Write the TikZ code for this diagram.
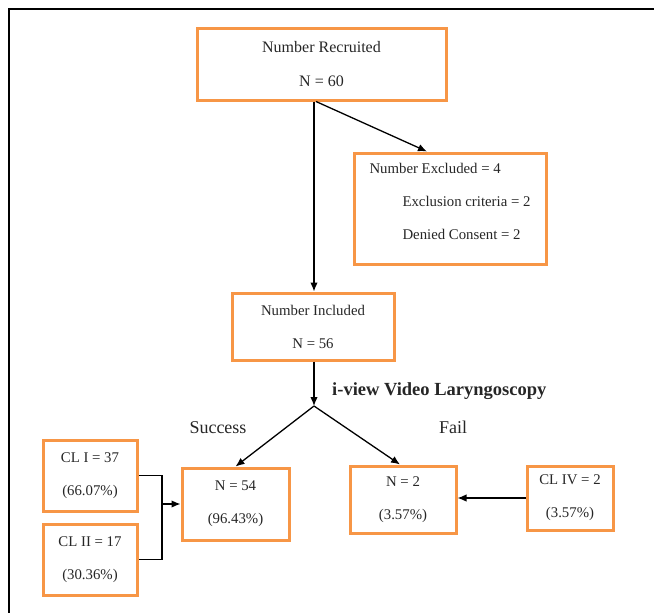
\documentclass[tikz,border=0pt]{standalone}
\usepackage{fontspec}
\setmainfont{Liberation Serif}
\usetikzlibrary{positioning, arrows.meta}
\definecolor{boxorange}{HTML}{F79646}

\begin{document}
\begin{tikzpicture}[x=1pt, y=-1pt, >={Latex[length=9pt,width=7.5pt]}, font=\fontsize{14.8}{17}\selectfont]
	\tikzset{
		box/.style={draw=boxorange, line width=3pt, align=center, inner sep=0pt, text=black!85},
		link/.style={line width=1.3pt, ->},
		label/.style={font=\fontsize{18}{21}\selectfont, text=black!85, inner sep=0pt},
	}
	\useasboundingbox (0,0) rectangle (654,613);
	\draw[line width=1.5pt] (654,9) -- (9,9) -- (9,613);

	\node[box, minimum width=249pt, minimum height=72pt, font=\fontsize{16}{18}\selectfont] (recruited) at (321.5,64) {Number Recruited\\[16pt]N = 60};
	\node[box, minimum width=192pt, minimum height=111pt, align=left, text depth=14pt] (excluded) at (450,208.5)
		{Number Excluded = 4\\[16pt]\hspace{33pt}Exclusion criteria = 2\\[16pt]\hspace{33pt}Denied Consent = 2};
	\node[box, minimum width=162pt, minimum height=67pt] (included) at (313,326.5) {Number Included\\[16pt]N = 56};
	\node[box, minimum width=107pt, minimum height=72pt] (n54) at (235.5,504) {N = 54\\[16pt](96.43\%)};
	\node[box, minimum width=106pt, minimum height=67pt] (n2) at (403,499.5) {N = 2\\[16pt](3.57\%)};
	\node[box, minimum width=86pt, minimum height=64pt] (cl4) at (570,498) {CL IV = 2\\[16pt](3.57\%)};
	\node[box, minimum width=94pt, minimum height=71pt] (cl1) at (90,475.5) {CL I = 37\\[16pt](66.07\%)};
	\node[box, minimum width=94pt, minimum height=71pt] (cl2) at (90,559.5) {CL II = 17\\[16pt](30.36\%)};

	\node[label, anchor=base west, font=\fontsize{18.5}{21}\selectfont\bfseries] (method) at (332,395) {i-view Video Laryngoscopy};
	\node[label, anchor=base] (success) at (218,433) {Success};
	\node[label, anchor=base] (fail) at (453,433) {Fail};

	\coordinate (split) at (314,406);
	\coordinate (merge) at (162,504);

	\draw[link] (split |- recruited.south) -- (split |- included.north);
	\draw[link] ([xshift=2pt]split |- recruited.south) -- ([xshift=-23pt]excluded.north);
	\draw[link] (split |- included.south) -- (split);
	\draw[link] (split) -- (n54.north);
	\draw[link] (split) -- ([xshift=-3pt]n2.north);
	\draw[line width=1.3pt] (cl1.east) -| (merge) |- (cl2.east);
	\draw[link] (merge) -- (n54.west);
	\draw[link] (cl4.west) -- (cl4.west -| n2.east);
\end{tikzpicture}
\end{document}
